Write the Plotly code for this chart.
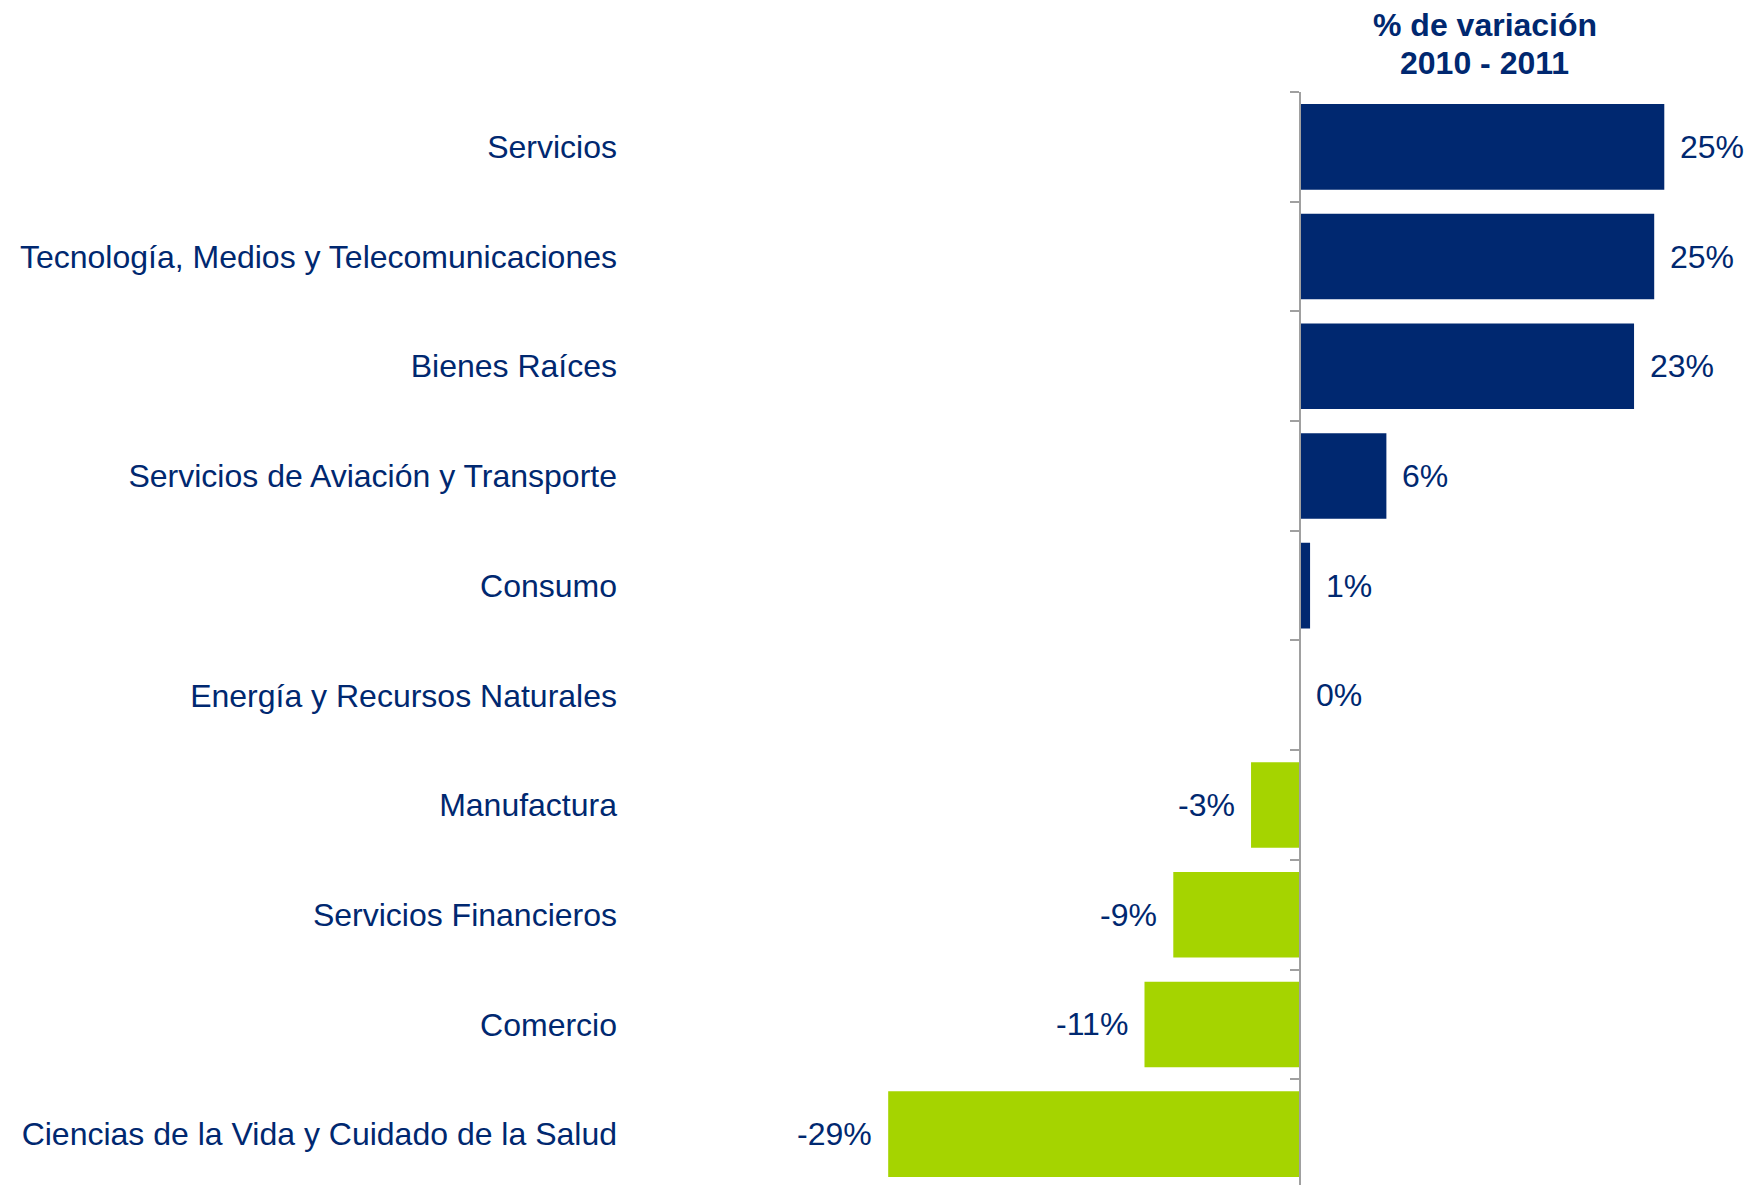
import plotly.graph_objects as go

# sector names (top to bottom) and % change 2010-2011
sectores = [
    "Servicios",
    "Tecnología, Medios y Telecomunicaciones",
    "Bienes Raíces",
    "Servicios de Aviación y Transporte",
    "Consumo",
    "Energía y Recursos Naturales",
    "Manufactura",
    "Servicios Financieros",
    "Comercio",
    "Ciencias de la Vida y Cuidado de la Salud",
]
variacion = [25.3, 24.6, 23.2, 6.0, 0.7, 0.0, -3.4, -8.8, -10.8, -28.6]
titulo = ["% de variación", "2010 - 2011"]

navy = "#002870"
green = "#A5D400"
grey = "#A0A0A0"
font = "Liberation Sans, Arial, sans-serif"

colors = [navy if v >= 0 else green for v in variacion]

fig = go.Figure()
fig.add_trace(go.Bar(
    x=variacion, y=sectores, orientation="h",
    marker=dict(color=colors, line=dict(width=0)),
    hoverinfo="skip",
))
# invisible helper so the zero axis (y2) gets drawn
fig.add_trace(go.Scatter(
    x=[0], y=[0], yaxis="y2", mode="markers",
    marker=dict(opacity=0), hoverinfo="skip",
))

# value labels next to the bar ends
for s, v in zip(sectores, variacion):
    fig.add_annotation(
        x=v, y=s, xref="x", yref="y",
        text=f"{v:.0f}%",
        showarrow=False,
        xanchor="left" if v >= 0 else "right",
        xshift=14 if v >= 0 else -14,
        font=dict(family=font, size=32, color=navy),
    )

# two-line title over the bars
for line, shift in zip(titulo, [67, 29]):
    fig.add_annotation(
        x=0.76, y=1, xref="paper", yref="paper",
        text=f"<b>{line}</b>", showarrow=False,
        xanchor="center", yanchor="middle", yshift=shift,
        font=dict(family=font, size=32, color=navy),
    )

# page body has an 8px margin, so the figure is 8px smaller
width, height = 1747, 1177
left, top = 620, 84
xmin, xmax = -46.67, 31.6
zero_pos = (0 - xmin) / (xmax - xmin)
yr = [9.464, -0.5]

fig.update_layout(
    width=width, height=height,
    margin=dict(l=left, r=0, t=top, b=0, autoexpand=False),
    paper_bgcolor="white", plot_bgcolor="white",
    bargap=0.22, showlegend=False,
    xaxis=dict(range=[xmin, xmax], visible=False, zeroline=False,
               showgrid=False, automargin=False),
    yaxis=dict(
        range=yr, type="category", showline=False, ticks="", showgrid=False,
        automargin=False, ticklabelstandoff=10,
        tickfont=dict(family=font, size=32, color=navy),
    ),
    yaxis2=dict(
        overlaying="y", anchor="free", position=zero_pos, side="left",
        range=yr, showline=True, linecolor=grey, linewidth=2,
        ticks="outside", ticklen=9, tickwidth=2, tickcolor=grey,
        tickvals=[i - 0.5 for i in range(len(sectores) + 1)],
        showticklabels=False, showgrid=False, zeroline=False, automargin=False,
    ),
)

fig.write_html("out.html")
